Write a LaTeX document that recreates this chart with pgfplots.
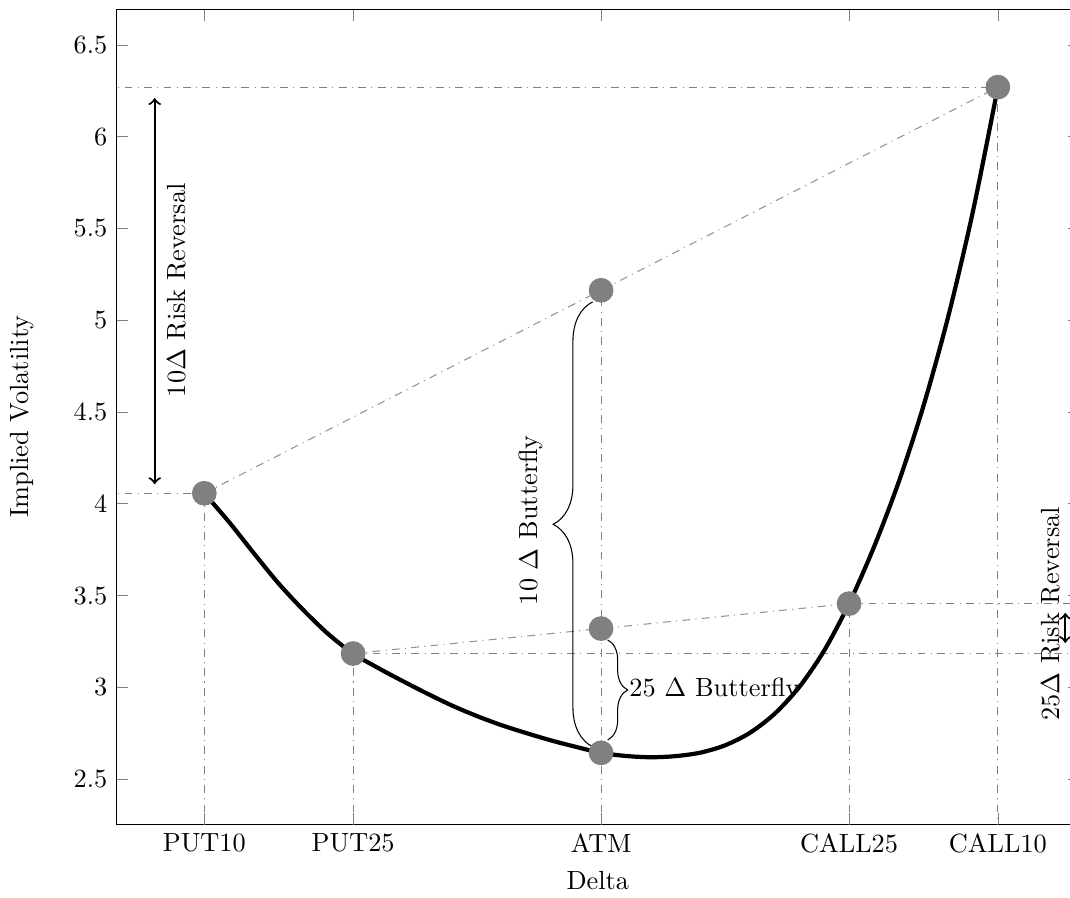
\documentclass[border=0pt]{standalone}
\usepackage{pgfplots}
\pgfplotsset{compat=1.18}
\usetikzlibrary{decorations.pathreplacing}
\begin{document}
\begin{tikzpicture}
\begin{axis}[
  name=ax,
  scale only axis,
  width=366pt, height=309.7pt,
  xmin=1.15, xmax=98.2,
  ymin=2.255, ymax=6.693,
  xtick={10,25,50,75,90},
  xticklabels={PUT10,PUT25,ATM,CALL25,CALL10},
  ytick={2.5,3,3.5,4,4.5,5,5.5,6,6.5},
  xlabel={Delta},
  ylabel={Implied Volatility},
  every axis y label/.style={at={(axis description cs:0,0.5)}, xshift=-36pt, rotate=90},
]
% reference lines
\addplot[gray, dash dot, line width=0.4pt] coordinates {(10,2) (10,4.057)};
\addplot[gray, dash dot, line width=0.4pt] coordinates {(25,2) (25,3.184)};
\addplot[gray, dash dot, line width=0.4pt] coordinates {(50,2) (50,5.163)};
\addplot[gray, dash dot, line width=0.4pt] coordinates {(75,2) (75,3.456)};
\addplot[gray, dash dot, line width=0.4pt] coordinates {(90,2) (90,6.270)};
\addplot[gray, dash dot, line width=0.4pt] coordinates {(0,6.270) (90,6.270)};
\addplot[gray, dash dot, line width=0.4pt] coordinates {(0,4.057) (10,4.057)};
\addplot[gray, dash dot, line width=0.4pt] coordinates {(25,3.184) (100,3.184)};
\addplot[gray, dash dot, line width=0.4pt] coordinates {(75,3.456) (100,3.456)};
\addplot[gray!85, dash dot, line width=0.4pt] coordinates {(10,4.057) (90,6.270)};
\addplot[gray!85, dash dot, line width=0.4pt] coordinates {(25,3.184) (75,3.456)};
% smile
\addplot[black, line width=1.6pt, smooth] coordinates {
  (10,4.057) (12.5,3.90) (15,3.73) (17.5,3.565) (20,3.42) (22.5,3.29)
  (25,3.184) (27.5,3.106) (30,3.034) (32.5,2.965) (35,2.900) (37.5,2.843)
  (40,2.793) (42.5,2.750) (45,2.710) (47.5,2.675) (50,2.643) (52.5,2.626)
  (55,2.619) (57.5,2.625) (60,2.644) (62.5,2.684) (65,2.752) (67.5,2.856)
  (70,3.003) (72.5,3.201) (75,3.456) (77.5,3.763) (80,4.118) (82.5,4.533)
  (85,5.021) (87.5,5.596) (90,6.270)};
% annotations
\draw[thick, <->] (axis cs:5,4.107) -- (axis cs:5,6.21);
\node[rotate=90] at (axis cs:7.2,5.163) {10$\Delta$ Risk Reversal};
\draw[thick, <->] (axis cs:96.8,3.242) -- (axis cs:96.8,3.405);
\node[rotate=90] at (axis cs:95.3,3.40) {25$\Delta$ Risk Reversal};
\draw[decorate, decoration={brace, amplitude=15pt, raise=3.2pt}] (axis cs:50,2.676) -- (axis cs:50,5.1);
\node[rotate=90] at (axis cs:42.94,3.911) {10 $\Delta$ Butterfly};
\draw[decorate, decoration={brace, amplitude=7.6pt, raise=2.5pt}] (axis cs:50,3.258) -- (axis cs:50,2.713);
\node[anchor=west, inner sep=0pt] at (axis cs:52.8,2.985) {25 $\Delta$ Butterfly};
% points
\addplot[only marks, mark=*, mark size=4.5pt, color=gray] coordinates {
  (10,4.057) (25,3.184) (50,2.643) (50,3.320) (50,5.163) (75,3.456) (90,6.270)};
\end{axis}
\pgfresetboundingbox
\path[use as bounding box] ([xshift=-44.3pt,yshift=-28.1pt]ax.south west) rectangle ([xshift=362.5pt,yshift=3.6pt]ax.north west);
\end{tikzpicture}
\end{document}
